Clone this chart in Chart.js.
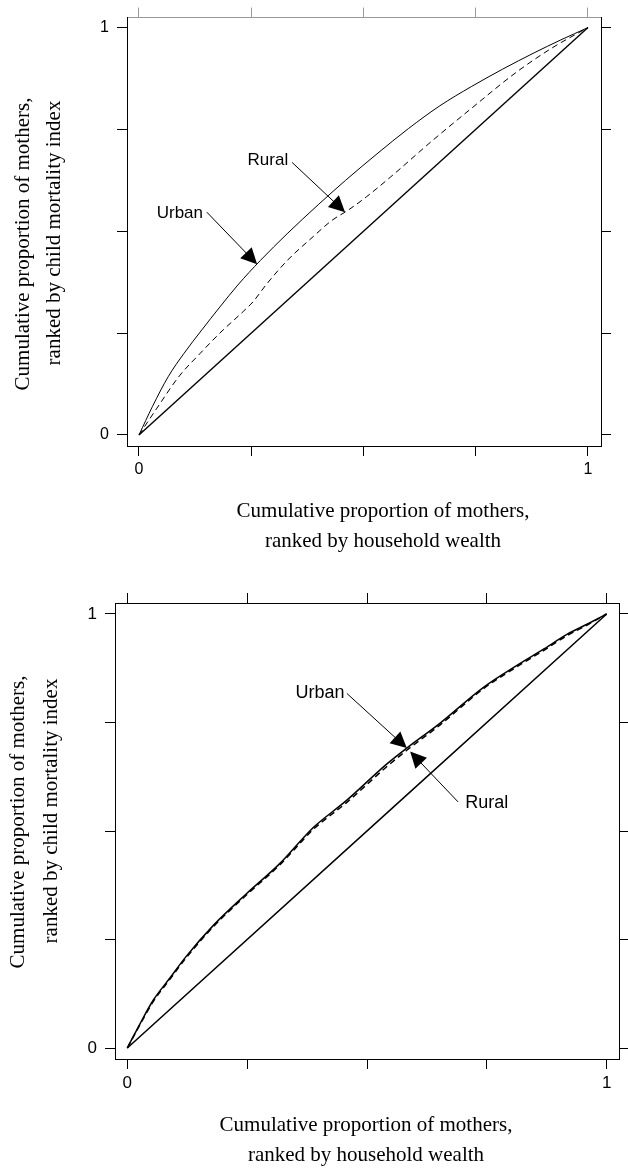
<!DOCTYPE html>
<html>
<head>
<meta charset="utf-8">
<script src="https://cdn.jsdelivr.net/npm/chart.js@4.4.1/dist/chart.umd.min.js"></script>
<style>
  html, body { margin: 0; padding: 0; background: #fff; }
  .wrap { position: absolute; left: 0; width: 628px; height: 584px; }
  canvas { display: block; }
</style>
</head>
<body>
<div class="wrap" style="top:0"><canvas id="chartTop" width="628" height="584"></canvas></div>
<div class="wrap" style="top:584px"><canvas id="chartBottom" width="628" height="584"></canvas></div>
<script>
// tick positions shared by both panels, only the ends get a label
const tickValues = [0, 0.25, 0.5, 0.75, 1];
const tickLabels = ['0', '', '', '', '1'];

// top panel: concentration curves
const topUrbanX = [0, 0.03, 0.065, 0.10, 0.14, 0.18, 0.22, 0.27, 0.33, 0.40, 0.46, 0.53, 0.60, 0.67, 0.74, 0.81, 0.88, 0.94, 1];
const topUrbanY = [0, 0.07, 0.143, 0.20, 0.258, 0.314, 0.368, 0.428, 0.494, 0.566, 0.625, 0.690, 0.752, 0.808, 0.855, 0.898, 0.938, 0.970, 1];
const topRuralX = [0, 0.04, 0.09, 0.136, 0.18, 0.232, 0.254, 0.284, 0.33, 0.388, 0.43, 0.466, 0.507, 0.56, 0.655, 0.744, 0.84, 0.92, 1];
const topRuralY = [0, 0.066, 0.145, 0.200, 0.250, 0.303, 0.327, 0.370, 0.428, 0.487, 0.527, 0.552, 0.585, 0.633, 0.724, 0.805, 0.890, 0.950, 1];

// bottom panel
const botUrbanX = [0, 0.027, 0.054, 0.09, 0.122, 0.179, 0.249, 0.319, 0.367, 0.388, 0.458, 0.541, 0.583, 0.652, 0.743, 0.812, 0.87, 0.917, 0.96, 1];
const botUrbanY = [0, 0.057, 0.110, 0.163, 0.210, 0.282, 0.356, 0.426, 0.484, 0.508, 0.571, 0.654, 0.691, 0.748, 0.831, 0.881, 0.92, 0.953, 0.977, 1];
const botRuralX = [0, 0.027, 0.054, 0.09, 0.122, 0.179, 0.249, 0.319, 0.367, 0.388, 0.458, 0.541, 0.583, 0.652, 0.743, 0.812, 0.87, 0.917, 0.96, 1];
const botRuralY = [0, 0.055, 0.107, 0.160, 0.207, 0.279, 0.353, 0.423, 0.480, 0.504, 0.566, 0.648, 0.686, 0.744, 0.828, 0.878, 0.917, 0.95, 0.975, 1];

// line of equality
const equalX = [0, 1];
const equalY = [0, 1];

const xTitle = ['Cumulative proportion of mothers,', 'ranked by household wealth'];
const yTitle = ['Cumulative proportion of mothers,', 'ranked by child mortality index'];

function pts(xs, ys) {
    return xs.map((x, i) => ({ x: x, y: ys[i] }));
}

function drawArrow(ctx, x1, y1, x2, y2, head) {
    const a = Math.atan2(y2 - y1, x2 - x1);
    const c = Math.cos(a), s = Math.sin(a), w = head * 0.5;
    ctx.beginPath();
    ctx.moveTo(x1, y1);
    ctx.lineTo(x2 - c * head * 0.8, y2 - s * head * 0.8);
    ctx.lineWidth = 1;
    ctx.strokeStyle = '#000';
    ctx.stroke();
    ctx.beginPath();
    ctx.moveTo(x2, y2);
    ctx.lineTo(x2 - c * head + s * w, y2 - s * head - c * w);
    ctx.lineTo(x2 - c * head - s * w, y2 - s * head + c * w);
    ctx.closePath();
    ctx.fillStyle = '#000';
    ctx.fill();
}

function makeChart(id, o) {
    const tickFont = { family: '"Liberation Sans", Arial, sans-serif', size: o.tickSize };
    const axis = (pos, min, max, size, color, showLabels) => ({
        type: 'linear',
        position: pos,
        min: min,
        max: max,
        afterBuildTicks: s => { s.ticks = tickValues.map(v => ({ value: v })); },
        afterFit: s => {
            if (pos === 'left' || pos === 'right') s.width = size; else s.height = size;
        },
        grid: { drawOnChartArea: false, drawTicks: true, tickLength: 10, color: color, lineWidth: 1 },
        border: { display: true, color: color, width: 1 },
        ticks: {
            display: showLabels,
            autoSkip: false,
            maxRotation: 0,
            padding: pos === 'left' ? 8 : 4,
            color: '#000',
            font: tickFont,
            callback: v => tickLabels[tickValues.indexOf(v)] || ''
        }
    });

    const labelPlugin = {
        id: 'labels_' + id,
        afterDraw(chart) {
            const ctx = chart.ctx;
            const sx = chart.scales.x, sy = chart.scales.y;
            ctx.save();
            ctx.fillStyle = '#000';
            ctx.font = '21px "Liberation Serif", "Times New Roman", serif';
            ctx.textAlign = 'center';
            ctx.textBaseline = 'alphabetic';
            ctx.fillText(xTitle[0], o.xTitleX, o.xTitleY[0]);
            ctx.fillText(xTitle[1], o.xTitleX, o.xTitleY[1]);
            for (let i = 0; i < 2; i++) {
                ctx.save();
                ctx.translate(o.yTitleX[i], o.yTitleY[i]);
                ctx.rotate(-Math.PI / 2);
                ctx.fillText(yTitle[i], 0, 0);
                ctx.restore();
            }
            // annotations, placed in data units
            ctx.font = o.noteSize + 'px "Liberation Sans", Arial, sans-serif';
            ctx.textBaseline = 'middle';
            o.notes.forEach(n => {
                ctx.fillText(n.text, sx.getPixelForValue(n.tx), sy.getPixelForValue(n.ty));
                drawArrow(ctx, sx.getPixelForValue(n.ax), sy.getPixelForValue(n.ay),
                    sx.getPixelForValue(n.bx), sy.getPixelForValue(n.by), o.head);
            });
            ctx.restore();
        }
    };

    const line = (label, xs, ys, width, dash) => ({
        label: label,
        data: pts(xs, ys),
        showLine: true,
        borderColor: '#000',
        borderWidth: width,
        borderDash: dash,
        pointRadius: 0,
        cubicInterpolationMode: 'monotone'
    });

    return new Chart(document.getElementById(id), {
        type: 'scatter',
        data: {
            datasets: [
                line('Equality', equalX, equalY, o.eqWidth, []),
                line('Urban', o.urbanX, o.urbanY, o.curveWidth, []),
                line('Rural', o.ruralX, o.ruralY, o.curveWidth, [6, 4])
            ]
        },
        options: {
            responsive: false,
            animation: false,
            devicePixelRatio: 1,
            layout: { padding: 0 },
            plugins: { legend: { display: false }, tooltip: { enabled: false } },
            scales: {
                x: axis('bottom', o.xMin, o.xMax, 584 - o.box.bottom, '#000', true),
                x2: axis('top', o.xMin, o.xMax, o.box.top, o.topColor, false),
                y: axis('left', o.yMin, o.yMax, o.box.left, '#000', true),
                y2: axis('right', o.yMin, o.yMax, 628 - o.box.right, '#000', false)
            }
        },
        plugins: [labelPlugin]
    });
}

makeChart('chartTop', {
    box: { left: 127, right: 601, top: 17, bottom: 446 },
    xMin: -0.0267, xMax: 1.029, yMin: -0.027, yMax: 1.0245,
    topColor: '#999',
    tickSize: 16, noteSize: 17, head: 16,
    curveWidth: 1, eqWidth: 1.4,
    urbanX: topUrbanX, urbanY: topUrbanY, ruralX: topRuralX, ruralY: topRuralY,
    xTitleX: 383, xTitleY: [517, 547],
    yTitleX: [29, 60], yTitleY: [244, 233],
    notes: [
        { text: 'Urban', tx: 0.091, ty: 0.544, ax: 0.151, ay: 0.547, bx: 0.263, by: 0.419 },
        { text: 'Rural', tx: 0.287, ty: 0.674, ax: 0.341, ay: 0.669, bx: 0.459, by: 0.547 }
    ]
});

makeChart('chartBottom', {
    box: { left: 115, right: 619, top: 19, bottom: 475 },
    xMin: -0.0257, xMax: 1.0257, yMin: -0.0253, yMax: 1.0253,
    topColor: '#000',
    tickSize: 17, noteSize: 18, head: 16,
    curveWidth: 1.5, eqWidth: 1.5,
    urbanX: botUrbanX, urbanY: botUrbanY, ruralX: botRuralX, ruralY: botRuralY,
    xTitleX: 366, xTitleY: [547, 577],
    yTitleX: [24, 57], yTitleY: [238, 227],
    notes: [
        { text: 'Urban', tx: 0.402, ty: 0.817, ax: 0.458, ay: 0.817, bx: 0.583, by: 0.691 },
        { text: 'Rural', tx: 0.750, ty: 0.565, ax: 0.690, ay: 0.567, bx: 0.590, by: 0.683 }
    ]
});
</script>
</body>
</html>
